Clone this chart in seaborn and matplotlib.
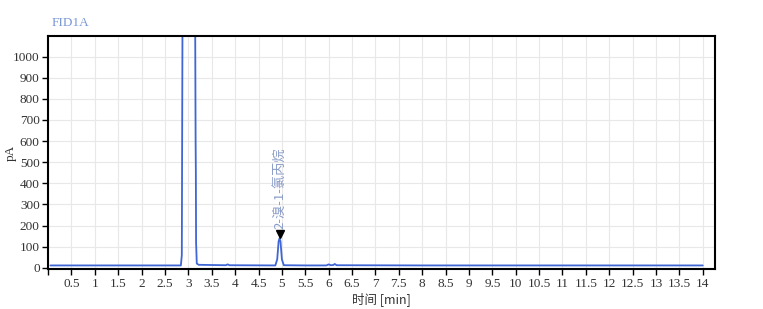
import matplotlib
matplotlib.use("Agg")
import matplotlib.pyplot as plt
import seaborn as sns
import pandas as pd

# ---- data ----
time_min = [0.05, 2.84, 2.86, 2.875, 2.89, 3.13, 3.145, 3.155, 3.16, 3.165, 3.18, 3.22,
            3.5, 3.80, 3.84, 3.88, 4.86, 4.90, 4.93, 4.95, 4.97, 5.00, 5.04, 5.5,
            5.95, 6.0, 6.05, 6.1, 6.13, 6.17, 8.0, 14.0]
signal_pA = [11, 11, 60, 1200, 1200, 1200, 1200, 600, 455, 120, 20, 14,
             13, 12, 16, 12, 11, 40, 125, 140, 125, 40, 12, 11,
             11, 16, 12, 13, 18, 12, 11, 11]
peak_time = 4.95
peak_top = 160
peak_label = "2-溴-1-氯丙烷"
x_ticks = [0, 0.5, 1, 1.5, 2, 2.5, 3, 3.5, 4, 4.5, 5, 5.5, 6, 6.5, 7, 7.5, 8, 8.5, 9,
           9.5, 10, 10.5, 11, 11.5, 12, 12.5, 13, 13.5, 14]
x_tick_labels = ["", "0.5", "1", "1.5", "2", "2.5", "3", "3.5", "4", "4.5", "5", "5.5", "6",
                 "6.5", "7", "7.5", "8", "8.5", "9", "9.5", "10", "10.5", "11", "11.5",
                 "12", "12.5", "13", "13.5", "14"]
y_ticks = [0, 100, 200, 300, 400, 500, 600, 700, 800, 900, 1000]

sns.set_theme(style="white")
plt.rcParams['font.family'] = ['Liberation Serif', 'Noto Sans CJK SC', 'DejaVu Sans']

fig = plt.figure(figsize=(7.63, 3.09), dpi=100)
ax = fig.add_axes([0.063, 0.128, 0.874, 0.756])

df = pd.DataFrame({"t": time_min, "s": signal_pA})
sns.lineplot(data=df, x="t", y="s", ax=ax, color="#3f66d4", linewidth=1.3,
             estimator=None, sort=False)

ax.set_xlim(0, 14.26)
ax.set_ylim(-8, 1098)
ax.set_xticks(x_ticks)
ax.set_xticklabels(x_tick_labels)
ax.set_yticks(y_ticks)
ax.grid(True, color="#e8e8e8", linewidth=0.8)
ax.set_axisbelow(True)
for sp in ax.spines.values():
    sp.set_color("black")
    sp.set_linewidth(1.5)
ax.tick_params(axis="both", which="major", direction="out", length=4, width=1,
               color="black", labelsize=9.5, pad=2, bottom=True, left=True)
for lbl in ax.get_xticklabels() + ax.get_yticklabels():
    lbl.set_color("#333333")

ax.set_xlabel("时间 [min]", fontsize=9, color="#333333", labelpad=2,
              family=['Noto Sans CJK SC', 'DejaVu Sans'])
ax.set_ylabel("pA", fontsize=9.5, color="#333333")
ax.yaxis.set_label_coords(-0.047, 0.5)

# peak marker and label
ax.plot([peak_time], [peak_top], marker="v", color="black", markersize=6)
ax.text(peak_time, peak_top + 22, peak_label, rotation=90, ha="center", va="bottom",
        fontsize=9.5, color="#8a9cc8", family=['Noto Sans CJK SC', 'DejaVu Sans'])

fig.text(0.068, 0.926, "FID1A", fontsize=9.5, color="#7b97d6", ha="left", va="center")

fig.savefig("out.png", dpi=100)
